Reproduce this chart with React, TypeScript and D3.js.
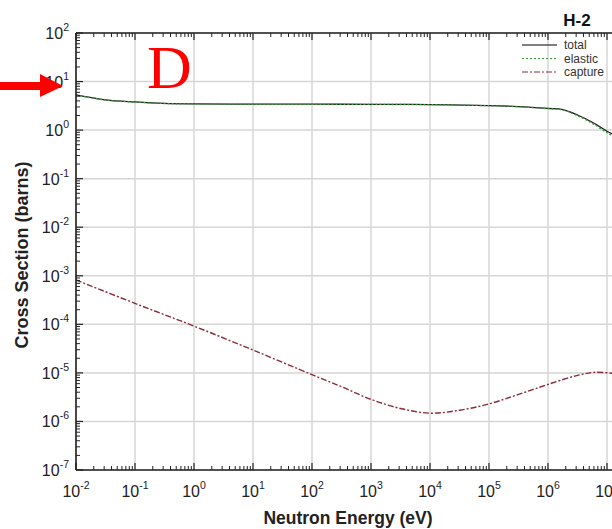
import React from "react";
import * as d3 from "d3";

const W = 612;
const H = 529;

// Data (log10 energy in eV, cross section in barns)
const totalLogE = [-2, -1.5, -1, -0.5, 0, 1, 2, 3, 4, 5, 5.5, 6, 6.25, 6.5, 6.75, 7, 7.1];
const totalXS = [5.3, 4.2, 3.8, 3.55, 3.47, 3.43, 3.42, 3.4, 3.36, 3.2, 3.05, 2.8, 2.65, 2.05, 1.45, 0.95, 0.82];
const elasticXS = [5.25, 4.17, 3.78, 3.53, 3.45, 3.41, 3.4, 3.38, 3.34, 3.18, 3.02, 2.76, 2.6, 1.98, 1.38, 0.88, 0.76];
const captureLogE = [-2, -1, 0, 1, 2, 2.5, 3, 3.5, 4, 4.5, 5, 5.5, 6, 6.5, 6.8, 7.1];
const captureXS = [8.2e-4, 2.7e-4, 9.2e-5, 2.95e-5, 9.2e-6, 5.2e-6, 2.85e-6, 1.85e-6, 1.48e-6, 1.7e-6, 2.3e-6, 3.6e-6, 5.8e-6, 8.9e-6, 1.03e-5, 9.8e-6];

const xDecades = [-2, -1, 0, 1, 2, 3, 4, 5, 6, 7];
const yDecades = [2, 1, 0, -1, -2, -3, -4, -5, -6, -7];
const legendItems = ["total", "elastic", "capture"];

const left = 76;
const top = 33;
const bottom = 470;
const decadeX = 59;
const right = left + decadeX * Math.log10(2e9);

export default function App() {
  const x = d3.scaleLog().domain([1e-2, 2e7]).range([left, right]);
  const y = d3.scaleLog().domain([1e-7, 1e2]).range([bottom, top]);

  const line = d3
    .line<[number, number]>()
    .x((d) => x(Math.pow(10, d[0])))
    .y((d) => y(d[1]))
    .curve(d3.curveCatmullRom.alpha(0.5));

  const totalPts = totalLogE.map((e, i) => [e, totalXS[i]] as [number, number]);
  const elasticPts = totalLogE.map((e, i) => [e, elasticXS[i]] as [number, number]);
  const capturePts = captureLogE.map((e, i) => [e, captureXS[i]] as [number, number]);

  const font = "'Liberation Sans', Arial, sans-serif";

  const xMinor: number[] = [];
  for (let d = -2; d <= 7; d++) {
    for (let m = 2; m <= 9; m++) {
      const v = m * Math.pow(10, d);
      if (v <= 2e7) xMinor.push(v);
    }
  }
  const yMinor: number[] = [];
  for (let d = -7; d < 2; d++) {
    for (let m = 2; m <= 9; m++) yMinor.push(m * Math.pow(10, d));
  }

  const legendColors = ["#000000", "#3c9a3c", "#8b2a3a"];
  const legendDash = ["none", "2,2", "6,2,2,2"];

  return (
    <svg width={W} height={H} style={{ position: "absolute", left: 0, top: 0 }}>
      <rect x={0} y={0} width={W} height={H} fill="#ffffff" />
      <defs>
        <clipPath id="plotClip">
          <rect x={left} y={top} width={right - left} height={bottom - top} />
        </clipPath>
      </defs>
      {/* grid */}
      {xDecades.map((d) => (
        <line key={"gx" + d} x1={x(Math.pow(10, d))} x2={x(Math.pow(10, d))} y1={top} y2={bottom} stroke="#d6d6d6" strokeWidth={1.5} />
      ))}
      {yDecades.map((d) => (
        <line key={"gy" + d} x1={left} x2={right} y1={y(Math.pow(10, d))} y2={y(Math.pow(10, d))} stroke="#d6d6d6" strokeWidth={1.5} />
      ))}
      {/* data */}
      <g clipPath="url(#plotClip)" fill="none">
        <path d={line(totalPts) || ""} stroke="#1a1a1a" strokeWidth={1.3} />
        <path d={line(elasticPts) || ""} stroke="#3c9a3c" strokeWidth={1.3} strokeDasharray="2,2" />
        <path d={line(capturePts) || ""} stroke="#8b2a3a" strokeWidth={1.4} strokeDasharray="6,2,2,2" />
      </g>
      {/* frame */}
      <line x1={left} x2={left} y1={top} y2={bottom} stroke="#222" strokeWidth={1.6} />
      <line x1={left} x2={right} y1={bottom} y2={bottom} stroke="#222" strokeWidth={1.6} />
      <line x1={left} x2={right} y1={top} y2={top} stroke="#222" strokeWidth={1.6} />
      {/* ticks */}
      {xDecades.map((d) => {
        const px = x(Math.pow(10, d));
        return (
          <g key={"tx" + d}>
            <line x1={px} x2={px} y1={bottom} y2={bottom - 7} stroke="#222" strokeWidth={1.2} />
            <line x1={px} x2={px} y1={top} y2={top + 7} stroke="#222" strokeWidth={1.2} />
          </g>
        );
      })}
      {xMinor.map((v, i) => {
        const px = x(v);
        return (
          <g key={"mx" + i}>
            <line x1={px} x2={px} y1={bottom} y2={bottom - 4} stroke="#222" strokeWidth={1} />
            <line x1={px} x2={px} y1={top} y2={top + 4} stroke="#222" strokeWidth={1} />
          </g>
        );
      })}
      {yDecades.map((d) => {
        const py = y(Math.pow(10, d));
        return <line key={"ty" + d} x1={left} x2={left + 7} y1={py} y2={py} stroke="#222" strokeWidth={1.2} />;
      })}
      {yMinor.map((v, i) => {
        const py = y(v);
        return <line key={"my" + i} x1={left} x2={left + 4} y1={py} y2={py} stroke="#222" strokeWidth={1} />;
      })}
      {/* tick labels */}
      {xDecades.map((d) => (
        <text key={"lx" + d} x={x(Math.pow(10, d))} y={497} textAnchor="middle" fontFamily={font} fontSize={16} fill="#222">
          <tspan>10</tspan>
          <tspan fontSize={10.5} dy={-8}>{d}</tspan>
        </text>
      ))}
      {yDecades.map((d) => (
        <text key={"ly" + d} x={69} y={y(Math.pow(10, d)) + 6} textAnchor="end" fontFamily={font} fontSize={16} fill="#222">
          <tspan>10</tspan>
          <tspan fontSize={10.5} dy={-8}>{d}</tspan>
        </text>
      ))}
      {/* axis titles */}
      <text x={348} y={524} textAnchor="middle" fontFamily={font} fontWeight="bold" fontSize={17.5} fill="#222">
        Neutron Energy (eV)
      </text>
      <text
        transform={`translate(28, 255) rotate(-90)`}
        textAnchor="middle"
        fontFamily={font}
        fontWeight="bold"
        fontSize={18}
        fill="#222"
      >
        Cross Section (barns)
      </text>
      {/* title */}
      <text x={577} y={26} textAnchor="middle" fontFamily={font} fontWeight="bold" fontSize={17} fill="#111">
        H-2
      </text>
      {/* legend */}
      {legendItems.map((name, i) => {
        const ly = 45 + i * 13.5;
        return (
          <g key={name}>
            <line x1={522} x2={557} y1={ly} y2={ly} stroke={legendColors[i]} strokeWidth={1.2} strokeDasharray={legendDash[i]} />
            <text x={564} y={ly + 4} fontFamily={font} fontSize={12} fill="#333">
              {name}
            </text>
          </g>
        );
      })}
      {/* annotation */}
      <text x={147} y={88} fontFamily="'Liberation Serif', 'Times New Roman', serif" fontSize={62} fill="#ff0000">
        D
      </text>
      <rect x={0} y={82} width={42} height={8} fill="#ff0000" />
      <polygon points="40,74 63,86 40,97" fill="#ff0000" />
    </svg>
  );
}
